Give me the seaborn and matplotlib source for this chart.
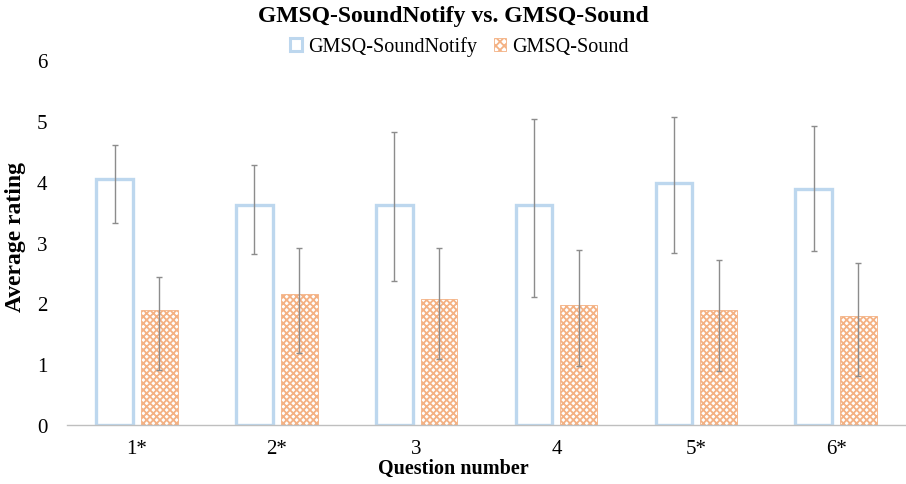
import matplotlib
matplotlib.use("Agg")
import matplotlib.pyplot as plt
from matplotlib.patches import Patch
import seaborn as sns
import pandas as pd
import numpy as np

questions = ["1*", "2*", "3", "4", "5*", "6*"]
series = ["GMSQ-SoundNotify", "GMSQ-Sound"]
notify_mean = [4.05, 3.61, 3.61, 3.61, 3.98, 3.88]
notify_low = [3.32, 2.81, 2.36, 2.10, 2.83, 2.86]
notify_high = [4.61, 4.28, 4.82, 5.03, 5.07, 4.92]
sound_mean = [1.89, 2.16, 2.07, 1.97, 1.89, 1.80]
sound_low = [0.90, 1.18, 1.08, 0.97, 0.89, 0.81]
sound_high = [2.44, 2.91, 2.91, 2.87, 2.72, 2.67]

df = pd.DataFrame({
    "Question": questions * 2,
    "Series": [series[0]] * 6 + [series[1]] * 6,
    "Rating": notify_mean + sound_mean,
})

sns.set_theme(style="white")
plt.rcParams["font.family"] = ["Liberation Serif", "DejaVu Serif"]
plt.rcParams["hatch.linewidth"] = 1.3
plt.rcParams["text.color"] = "black"
plt.rcParams["xtick.color"] = "black"
plt.rcParams["ytick.color"] = "black"

blue = "#BDD7EE"
orange = "#F4B183"
err_col = "#8C8C8C"

fig = plt.figure(figsize=(9.06, 4.85), dpi=100)
ax = fig.add_axes([0.074, 0.1216, 0.926, 0.7526])

sns.barplot(data=df, x="Question", y="Rating", hue="Series", order=questions,
            hue_order=series, width=0.64, gap=0.18, errorbar=None, ax=ax,
            legend=False)

conts = ax.containers
for bar in conts[0]:
    bar.set_facecolor("white")
    bar.set_edgecolor(blue)
    bar.set_linewidth(2.4)
for bar in conts[1]:
    bar.set_facecolor("white")
    bar.set_edgecolor(orange)
    bar.set_hatch("xxxxx")
    bar.set_linewidth(0.6)

for cont, mean, low, high in [(conts[0], notify_mean, notify_low, notify_high),
                              (conts[1], sound_mean, sound_low, sound_high)]:
    xs = [b.get_x() + b.get_width() / 2 for b in cont]
    m = np.array(mean)
    yerr = [m - np.array(low), np.array(high) - m]
    ax.errorbar(xs, m, yerr=yerr, fmt="none", ecolor=err_col, elinewidth=1.0,
                capsize=2.5, capthick=1.0, zorder=5)

ax.set_ylim(0, 6)
ax.set_xlim(-0.5, 5.5)
ax.set_yticks(range(0, 7))
ax.tick_params(axis="y", length=0, pad=14, labelsize=15)
ax.tick_params(axis="x", length=0, pad=10, labelsize=15)
for s in ["top", "right", "left"]:
    ax.spines[s].set_visible(False)
ax.spines["bottom"].set_color("#BFBFBF")
ax.spines["bottom"].set_linewidth(1.0)
ax.set_xlabel("")
ax.set_ylabel("")

fig.text(0.5, 0.965, "GMSQ-SoundNotify vs. GMSQ-Sound", ha="center", va="center",
         fontsize=17, fontweight="bold")
fig.text(0.017, 0.512, "Average rating", rotation=90, ha="center", va="center",
         fontsize=17, fontweight="bold")
fig.text(0.5, 0.033, "Question number", ha="center", va="center",
         fontsize=14.5, fontweight="bold")

handles = [Patch(facecolor="white", edgecolor=blue, linewidth=2.2, label=series[0]),
           Patch(facecolor="white", edgecolor=orange, hatch="xxxx", linewidth=0.6,
                 label=series[1])]
fig.legend(handles=handles, loc="center", bbox_to_anchor=(0.507, 0.902), ncol=2,
           frameon=False, fontsize=14.5, handlelength=0.6, handleheight=0.6,
           handletextpad=0.3, columnspacing=0.8)

fig.savefig("out.png", dpi=100)
